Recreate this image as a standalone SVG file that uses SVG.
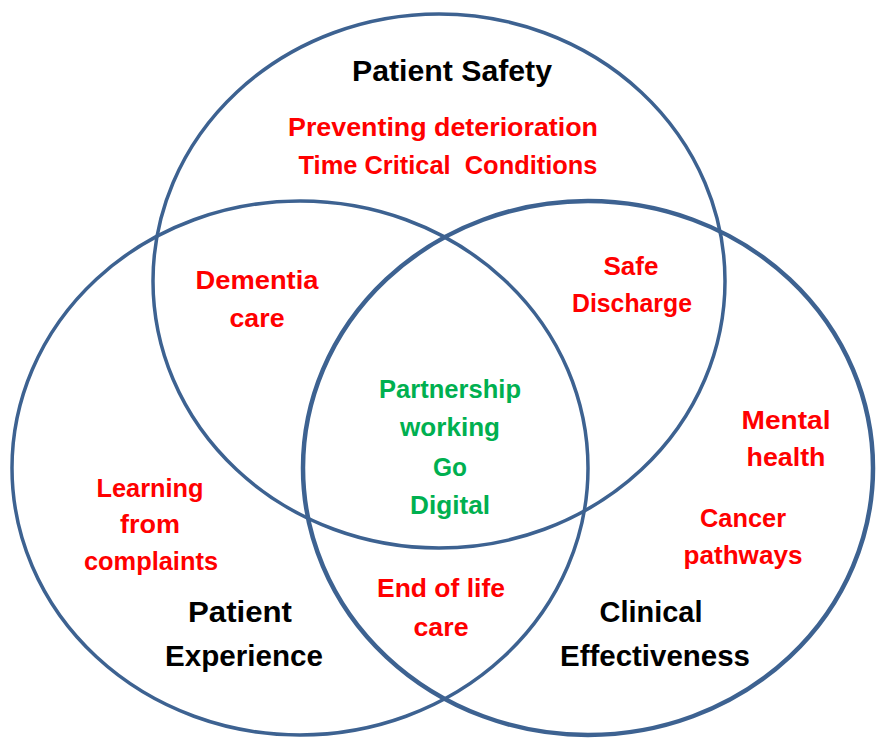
<svg xmlns="http://www.w3.org/2000/svg" width="876" height="738" viewBox="0 0 876 738">
<style>
.c{fill:none;stroke:#3D6291;stroke-width:3.5}
text{font-family:"Liberation Sans Narrow","Liberation Sans",Arial,sans-serif;font-weight:bold;text-anchor:middle}
.t{fill:#000;font-size:29px}
.r{fill:#FF0000;font-size:26px}
.g{fill:#00B050;font-size:26px}
</style>
<rect width="876" height="738" fill="#fff"/>
<g id="circles">
<ellipse id="safety-circle" class="c" cx="439" cy="281" rx="286" ry="267"/>
<ellipse id="experience-circle" class="c" cx="300" cy="468" rx="288" ry="267"/>
<ellipse id="effectiveness-circle" class="c" cx="588" cy="468" rx="285" ry="267" style="stroke-width:4.5"/>
</g>
<g id="patient-safety">
<text class="t" x="452" y="81" textLength="200" lengthAdjust="spacingAndGlyphs">Patient Safety</text>
<text class="r" x="443" y="136" textLength="310" lengthAdjust="spacingAndGlyphs">Preventing deterioration</text>
<text class="r" x="448" y="174" textLength="299" lengthAdjust="spacingAndGlyphs" xml:space="preserve">Time Critical  Conditions</text>
</g>
<g id="dementia">
<text class="r" x="257" y="289" textLength="123" lengthAdjust="spacingAndGlyphs">Dementia</text>
<text class="r" x="257" y="327" textLength="55" lengthAdjust="spacingAndGlyphs">care</text>
</g>
<g id="safe-discharge">
<text class="r" x="631" y="275" textLength="55" lengthAdjust="spacingAndGlyphs">Safe</text>
<text class="r" x="632" y="312" textLength="120" lengthAdjust="spacingAndGlyphs">Discharge</text>
</g>
<g id="centre">
<text class="g" x="450" y="398" textLength="142" lengthAdjust="spacingAndGlyphs">Partnership</text>
<text class="g" x="450" y="436" textLength="100" lengthAdjust="spacingAndGlyphs">working</text>
<text class="g" x="450" y="476" textLength="34" lengthAdjust="spacingAndGlyphs">Go</text>
<text class="g" x="450" y="514" textLength="80" lengthAdjust="spacingAndGlyphs">Digital</text>
</g>
<g id="mental-health">
<text class="r" x="786" y="429" textLength="89" lengthAdjust="spacingAndGlyphs">Mental</text>
<text class="r" x="786" y="466" textLength="79" lengthAdjust="spacingAndGlyphs">health</text>
</g>
<g id="learning">
<text class="r" x="150" y="497" textLength="107" lengthAdjust="spacingAndGlyphs">Learning</text>
<text class="r" x="150" y="533" textLength="60" lengthAdjust="spacingAndGlyphs">from</text>
<text class="r" x="151" y="570" textLength="134" lengthAdjust="spacingAndGlyphs">complaints</text>
</g>
<g id="cancer">
<text class="r" x="743" y="527" textLength="86" lengthAdjust="spacingAndGlyphs">Cancer</text>
<text class="r" x="743" y="564" textLength="119" lengthAdjust="spacingAndGlyphs">pathways</text>
</g>
<g id="end-of-life">
<text class="r" x="441" y="597" textLength="128" lengthAdjust="spacingAndGlyphs">End of life</text>
<text class="r" x="441" y="636" textLength="55" lengthAdjust="spacingAndGlyphs">care</text>
</g>
<g id="patient-experience">
<text class="t" x="240" y="622" textLength="104" lengthAdjust="spacingAndGlyphs">Patient</text>
<text class="t" x="244" y="666" textLength="158" lengthAdjust="spacingAndGlyphs">Experience</text>
</g>
<g id="clinical-effectiveness">
<text class="t" x="651" y="622" textLength="103" lengthAdjust="spacingAndGlyphs">Clinical</text>
<text class="t" x="655" y="666" textLength="190" lengthAdjust="spacingAndGlyphs">Effectiveness</text>
</g>
</svg>
